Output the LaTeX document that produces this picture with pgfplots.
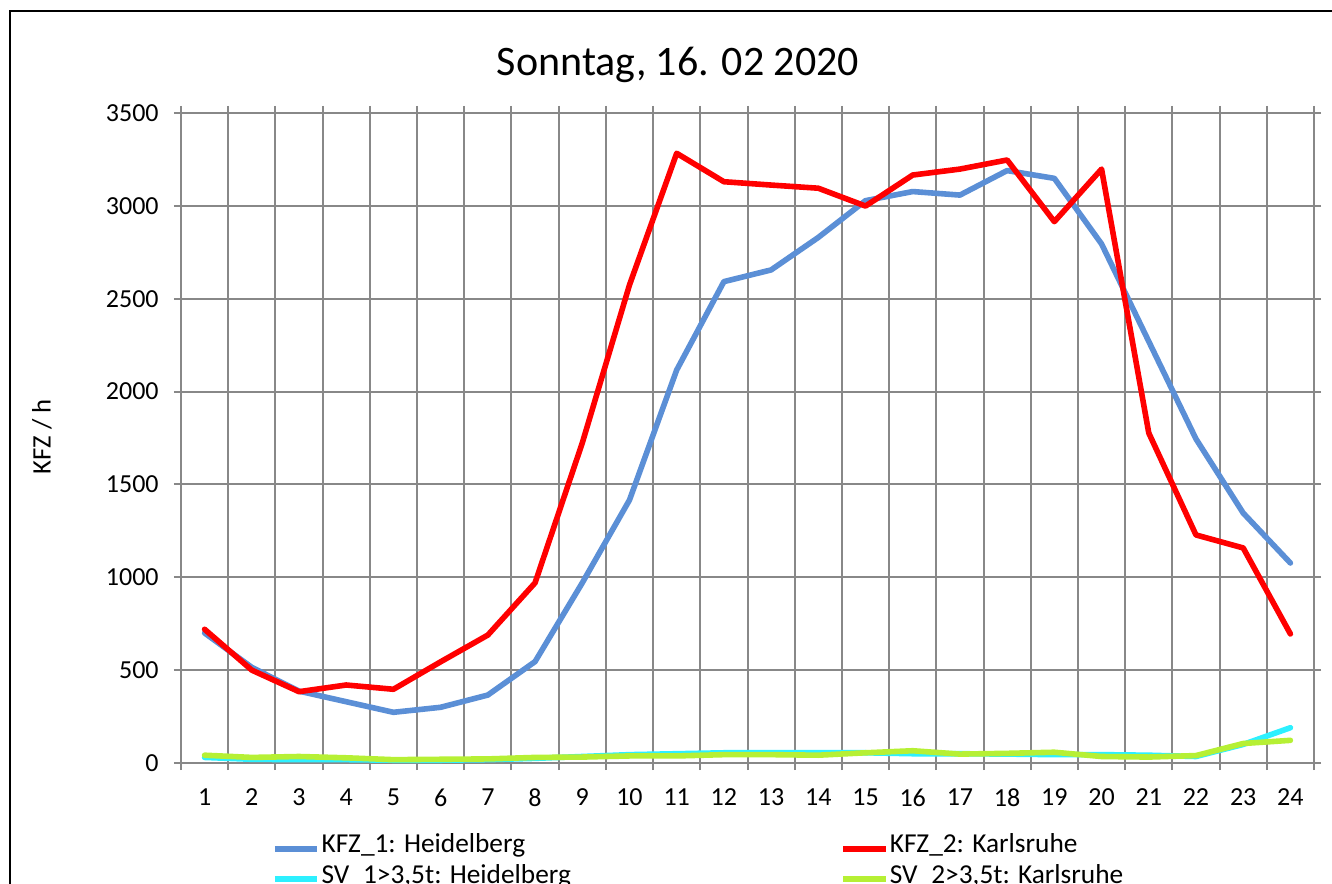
\documentclass[border=0pt]{standalone}
\usepackage{pgfplots}
\pgfplotsset{compat=1.18}
\usepackage{fontspec}
\setmainfont{Carlito}
\definecolor{kfzone}{RGB}{91,143,214}
\definecolor{kfztwo}{RGB}{255,0,0}
\definecolor{svone}{RGB}{45,240,255}
\definecolor{svtwo}{RGB}{182,240,52}
\definecolor{gridgray}{RGB}{136,136,136}
\begin{document}
\begin{tikzpicture}
\useasboundingbox (-135.75pt,-90pt) rectangle (863.25pt,572.25pt);
\draw[line width=1.5pt] (-128.25pt,-100pt) -- (-128.25pt,564pt) -- (880pt,564pt);
\begin{axis}[
  width=849.75pt, height=487.5pt, scale only axis,
  xmin=0.5, xmax=24.5, ymin=0, ymax=3500,
  xtick={1,...,24},
  minor xtick={0.5,1.5,...,24.5},
  ytick={0,500,...,3500},
  tick align=outside,
  major tick length=5.25pt, minor tick length=5.25pt,
  major x tick style={draw=none},
  minor x tick style={gridgray, line width=1.5pt},
  major y tick style={gridgray, line width=1.5pt},
  xmajorgrids=false, xminorgrids=true, ymajorgrids=true,
  grid style={gridgray, line width=1.5pt},
  minor grid style={gridgray, line width=1.5pt},
  axis line style={gridgray, line width=1.5pt},
  /pgf/number format/assume math mode=true,
  /pgf/number format/1000 sep={},
  ticklabel style={font=\fontsize{19.5}{23}\selectfont},
  yticklabel style={xshift=-8pt},
  xticklabel style={yshift=-10.5pt},
  title={Sonntag, 16. 02 2020},
  title style={font=\fontsize{31.5}{36}\selectfont, at={(axis description cs:0.4387,1.0615)}, anchor=center},
  ylabel={KFZ / h},
  ylabel style={font=\fontsize{20}{24}\selectfont, at={(axis description cs:-0.1227,0.5015)}, anchor=center, rotate=0},
  legend columns=2,
  legend style={draw=none, fill=none, at={(axis description cs:0.0803,-0.109)}, anchor=north west,
    inner sep=0pt, outer sep=0pt, font=\fontsize{20.5}{24}\selectfont,
    nodes={inner sep=0pt, anchor=base west},
    row sep=7pt,
    /tikz/every odd column/.append style={column sep=1pt}},
  legend cell align=left,
  legend image code/.code={\draw[#1, line cap=butt] (0pt,0.3em) -- (32pt,0.3em);},
  every axis plot/.append style={line width=4.2pt, line join=round, line cap=round, mark=none},
  clip=false,
]
\addplot[kfzone] coordinates {
(1,700) (2,515) (3,387) (4,330) (5,273) (6,300) (7,366) (8,546) (9,970) (10,1416) (11,2116) (12,2592)
(13,2655) (14,2830) (15,3028) (16,3077) (17,3058) (18,3190) (19,3148) (20,2795) (21,2270) (22,1745) (23,1346) (24,1077)};
\addlegendentry{\makebox[389pt][l]{KFZ\_1: Heidelberg}}
\addplot[kfztwo] coordinates {
(1,720) (2,500) (3,384) (4,420) (5,397) (6,545) (7,689) (8,970) (9,1723) (10,2574) (11,3283) (12,3130)
(13,3112) (14,3095) (15,2999) (16,3166) (17,3198) (18,3247) (19,2915) (20,3198) (21,1777) (22,1228) (23,1158) (24,695)};
\addlegendentry{KFZ\_2: Karlsruhe}
\addplot[svone] coordinates {
(1,30) (2,20) (3,18) (4,18) (5,15) (6,15) (7,18) (8,25) (9,35) (10,45) (11,50) (12,55)
(13,55) (14,55) (15,55) (16,50) (17,50) (18,48) (19,45) (20,45) (21,42) (22,35) (23,100) (24,190)};
\addlegendentry{\makebox[389pt][l]{SV\_1>3,5t: Heidelberg}}
\addplot[svtwo] coordinates {
(1,42) (2,30) (3,35) (4,28) (5,18) (6,20) (7,22) (8,30) (9,32) (10,38) (11,38) (12,45)
(13,45) (14,42) (15,55) (16,66) (17,48) (18,52) (19,58) (20,35) (21,32) (22,40) (23,105) (24,122)};
\addlegendentry{SV\_2>3,5t: Karlsruhe}
\end{axis}
\end{tikzpicture}
\end{document}
